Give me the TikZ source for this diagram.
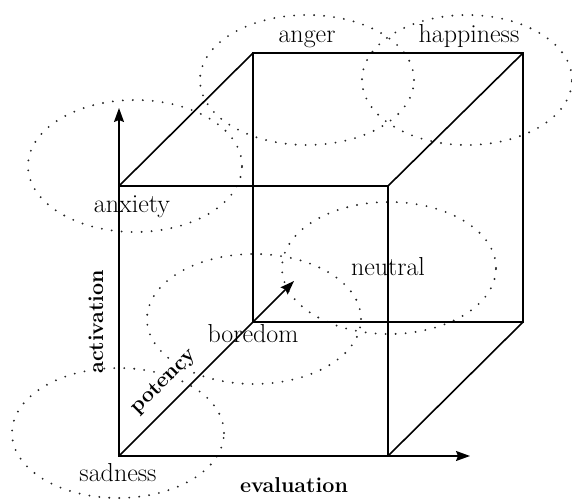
\documentclass[tikz,border=0pt]{standalone}
\usepackage{fontspec}
\setmainfont{Latin Modern Roman}
\usetikzlibrary{arrows.meta}
\begin{document}
\begin{tikzpicture}[x=1pt,y=1pt,
  edge/.style={line width=1.6pt, line join=miter},
  axis/.style={line width=1.6pt, -{Stealth[length=14pt,width=10pt,inset=2pt]}},
  region/.style={draw=black!85, line width=2.1pt, line cap=round, dash pattern=on 0pt off 10pt},
  emo/.style={font=\fontsize{26}{30}\selectfont, inner sep=0pt, anchor=base},
  axlabel/.style={font=\fontsize{21.5}{25}\selectfont\bfseries, inner sep=0pt}]
\useasboundingbox (0,0) rectangle (572,500);
% dotted regions
\draw[region] (135,334) ellipse [x radius=107, y radius=66];
\draw[region] (307,420) ellipse [x radius=107, y radius=65];
\draw[region] (467,420) ellipse [x radius=105, y radius=65];
\draw[region] (389,232) ellipse [x radius=107, y radius=66];
\draw[region] (254,181) ellipse [x radius=107, y radius=65];
\draw[region] (118,67) ellipse [x radius=106, y radius=65];
% cube corners
\coordinate (FBL) at (119,44);
\coordinate (FTL) at (119,314);
\coordinate (FTR) at (388,314);
\coordinate (FBR) at (388,44);
\coordinate (BBL) at (253,178);
\coordinate (BTL) at (253,447);
\coordinate (BTR) at (523,447);
\coordinate (BBR) at (523,178);
\coordinate (acttip) at (119,392);
\coordinate (evtip) at (470,44);
\coordinate (pottip) at (294,219);
% cube
\draw[edge] (FBL) -- (FTL) -- (FTR) -- (FBR) -- cycle;
\draw[edge] (BTL) -- (BTR) -- (BBR) -- (BBL) -- cycle;
\draw[edge] (FTL) -- (BTL);
\draw[edge] (FTR) -- (BTR);
\draw[edge] (FBR) -- (BBR);
% axes
\draw[axis] (FTL) -- (acttip);
\draw[axis] (FBR) -- (evtip);
\draw[axis] (FBL) -- (pottip);
% emotion labels
\node[emo] (anxiety) at (132,287) {anxiety};
\node[emo] (anger) at (307,457) {anger};
\node[emo] (happiness) at (469,457) {happiness};
\node[emo] (neutral) at (388,224) {neutral};
\node[emo] (boredom) at (253,157) {boredom};
\node[emo] (sadness) at (118,19) {sadness};
% axis labels
\node[axlabel, anchor=base] (evaluation) at (294,8) {evaluation};
\node[axlabel, anchor=base, rotate=90] (activation) at (103,178) {activation};
\node[axlabel, rotate=45] (potency) at (164,118) {potency};
\end{tikzpicture}
\end{document}
